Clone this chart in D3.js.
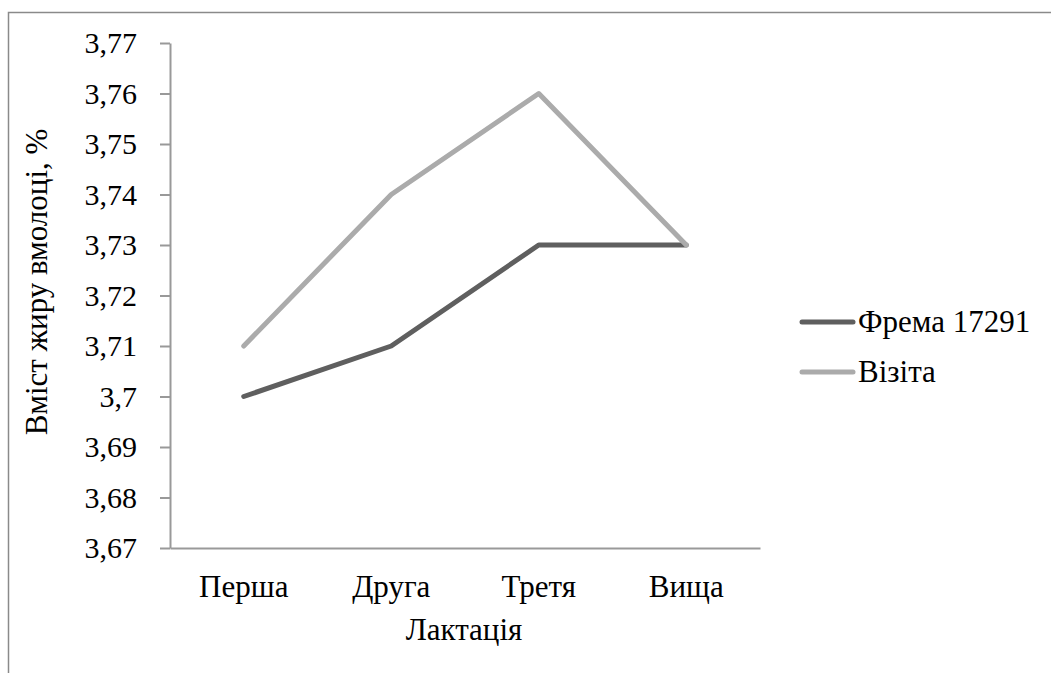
<!DOCTYPE html>
<html lang="uk"><head><meta charset="utf-8">
<script src="https://cdn.jsdelivr.net/npm/d3@7"></script>
<style>body{margin:0;background:#fff}</style>
</head><body>
<svg id="c" width="1051" height="673" font-family="Liberation Serif"></svg>
<script>
const categories = ["Перша","Друга","Третя","Вища"];
const seriesNames = ["Фрема 17291","Візіта"];
const frema = [3.70, 3.71, 3.73, 3.73];
const vizita = [3.71, 3.74, 3.76, 3.73];
const yTicks = [3.67,3.68,3.69,3.70,3.71,3.72,3.73,3.74,3.75,3.76,3.77];
const colors = ["#5f5f5f","#ababab"];
const FS = 31;
const SERIF = "Liberation Serif";

const svg = d3.select("#c");
svg.append("path").attr("d","M8.5,673 L8.5,12.5 L1051,12.5").attr("fill","none").attr("stroke","#8a8a8a").attr("stroke-width",1.5);

const x = d3.scaleBand().domain(categories).range([170,760]);
const y = d3.scaleLinear().domain([3.67,3.77]).range([548,43]);
const fmt = v => d3.format(".2f")(v).replace(/\.?0+$/,"").replace(".",",");

function serif(sel, size){
  return sel.attr("font-size",size).attr("font-family",SERIF).style("font-family",'"Liberation Serif"').attr("fill","#000");
}

const yAxis = svg.append("g").attr("transform","translate(170,0)")
  .call(d3.axisLeft(y).tickValues(yTicks).tickFormat(fmt).tickSize(10).tickSizeOuter(0))
  .attr("font-family",SERIF).attr("font-size",null);
yAxis.select(".domain").attr("stroke","#999").attr("stroke-width",2);
yAxis.selectAll(".tick line").attr("stroke","#999").attr("stroke-width",2);
serif(yAxis.selectAll(".tick text").attr("x",-33), 30);

const xAxis = svg.append("g").attr("transform","translate(0,548)")
  .call(d3.axisBottom(x).tickSize(0).tickSizeOuter(0))
  .attr("font-family",SERIF).attr("font-size",null);
xAxis.select(".domain").attr("stroke","#999").attr("stroke-width",2);
serif(xAxis.selectAll(".tick text").attr("y",49).attr("dy",null), FS);

// text layer (drawn before the line marks)
const textLayer = svg.append("g").attr("font-family",SERIF);
serif(textLayer.append("text").attr("x",464).attr("y",640).attr("text-anchor","middle"), FS).text("Лактація");
serif(textLayer.append("text").attr("transform","translate(47,282) rotate(-90)").attr("text-anchor","middle"), FS).text("Вміст жиру вмолоці, %");
seriesNames.forEach((n,k)=>{
  serif(textLayer.append("text").attr("x",858).attr("y",332 + k*50), FS).text(n);
});

// mark layer
const markLayer = svg.append("g");
const line = d3.line().x((d,i)=>x(categories[i])+x.bandwidth()/2).y(d=>y(d));
[frema, vizita].forEach((s,k)=>{
  markLayer.append("path").datum(s).attr("d",line).attr("fill","none")
    .attr("stroke",colors[k]).attr("stroke-width",5).attr("stroke-linejoin","round").attr("stroke-linecap","round");
});
seriesNames.forEach((n,k)=>{
  const yy = 322 + k*50;
  markLayer.append("line").attr("x1",802).attr("x2",853).attr("y1",yy).attr("y2",yy)
    .attr("stroke",colors[k]).attr("stroke-width",5).attr("stroke-linecap","round");
});
</script>
</body></html>
